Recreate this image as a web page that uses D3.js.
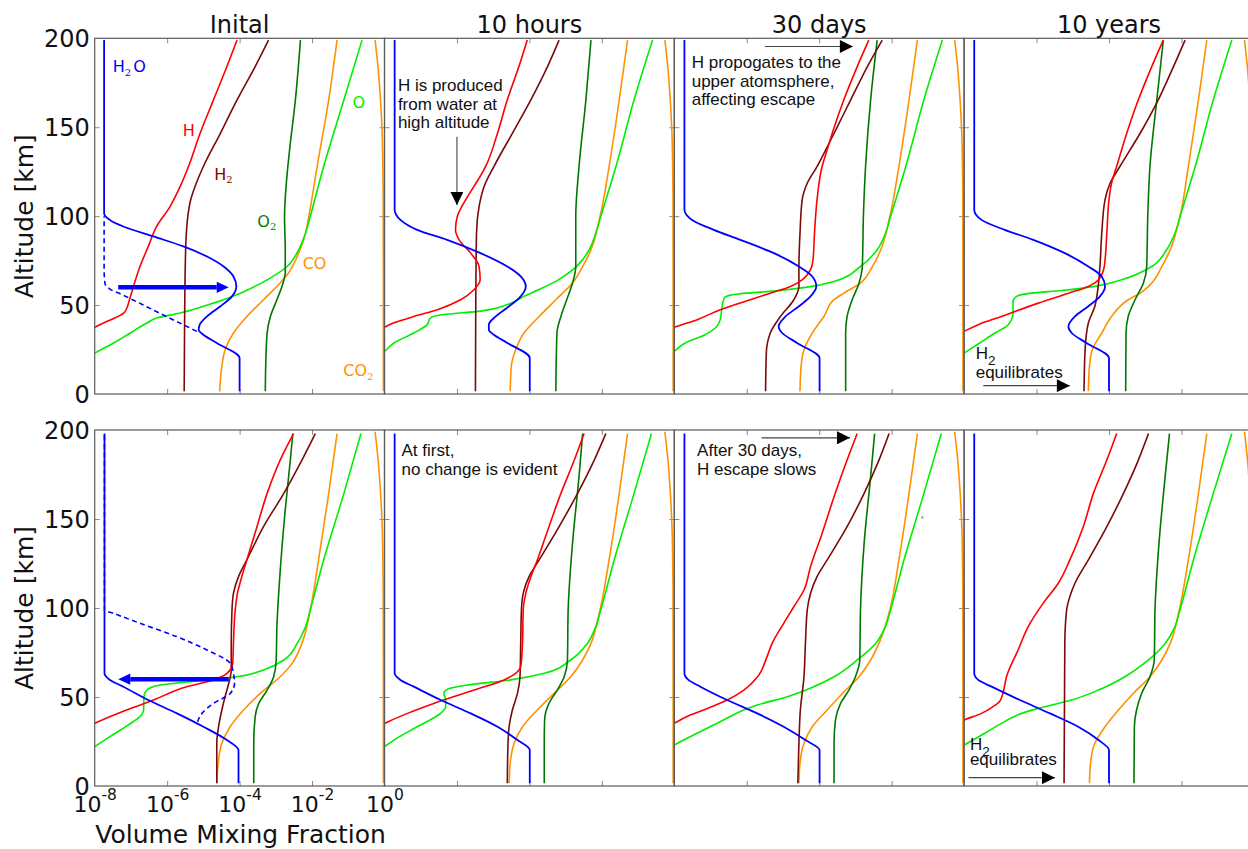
<!DOCTYPE html>
<html>
<head>
<meta charset="utf-8">
<script src="https://cdn.jsdelivr.net/npm/d3@7"></script>
<style>
  body { margin: 0; background: #fff; }
  svg { display: block; }
</style>
</head>
<body>
<svg id="chart" width="1248" height="849"></svg>
<script>
// ---------------------------------------------------------------------------
// Atmospheric composition profiles after a water injection (top row) and a
// water depletion (bottom row). Each profile is a list of
// [altitude km, log10 volume mixing fraction] pairs; each species array
// holds one profile per time step: Inital, 10 hours, 30 days, 10 years.
// ---------------------------------------------------------------------------
const panelTitles = ["Inital", "10 hours", "30 days", "10 years"];
const altTicks = [0, 50, 100, 150, 200];
const altInnerTicks = [50, 100, 150];
const vmrTicks = [1e-8, 1e-6, 1e-4, 1e-2, 1];
const vmrTickExponents = ["-8", "-6", "-4", "-2", "0"];
const vmrInnerTicks = [1e-6, 1e-4, 1e-2];

// ----- water injected (top row) -----
const h2oTop = [
  [[1.5,-4.0],[20.2,-4.0],[28.7,-4.63],[33.3,-5.0],[36.1,-5.13],[39.0,-5.1],[43.6,-4.9],[49.3,-4.53],[54.9,-4.21],[60.5,-4.09],[66.1,-4.17],[71.7,-4.44],[77.3,-4.9],[83.0,-5.55],[88.6,-6.38],[94.2,-7.21],[97.9,-7.58],[101.7,-7.74],[199,-7.74]],
  [[1.5,-3.99],[20.2,-3.99],[28.7,-4.61],[33.3,-4.98],[36.1,-5.12],[39,-5.12],[43.6,-4.93],[49.3,-4.56],[54.9,-4.24],[60.5,-4.1],[66.1,-4.24],[71.7,-4.61],[79.2,-5.35],[86.7,-6.27],[92.3,-7.1],[97.9,-7.56],[103.6,-7.72],[199,-7.72]],
  [[1.5,-3.99],[20.2,-3.99],[28.7,-4.61],[34.3,-5.02],[38,-5.12],[43.6,-4.93],[49.3,-4.56],[54.9,-4.24],[60.5,-4.08],[66.1,-4.19],[71.7,-4.56],[79.2,-5.25],[86.7,-6.18],[92.3,-6.91],[97.9,-7.51],[103.6,-7.72],[199,-7.72]],
  [[1.5,-4.0],[20.2,-4.0],[28.7,-4.62],[34.3,-5.03],[38,-5.12],[43.6,-4.94],[49.3,-4.57],[54.9,-4.25],[60.5,-4.11],[66.1,-4.2],[71.7,-4.57],[79.2,-5.22],[86.7,-6.09],[92.3,-6.88],[97.9,-7.52],[103.6,-7.72],[199,-7.72]]
];
const h2oTopBefore = [[35.2,-5.18],[47,-6.36],[56,-7.26],[59,-7.58],[62.4,-7.72],[70,-7.74],[100,-7.74]];

const hTop = [
  [[30,-8.75],[37.5,-8.0],[40.5,-7.7],[42.7,-7.45],[45.5,-7.2],[48,-7.12],[53,-7.04],[60.5,-6.93],[71.7,-6.75],[83,-6.52],[94.2,-6.29],[105.4,-5.92],[116.7,-5.64],[127.9,-5.41],[146.6,-5.09],[165.4,-4.72],[184.1,-4.35],[199,-4.07]],
  [[30,-8.7],[37.5,-8.0],[40,-7.74],[43.6,-7.19],[47.4,-6.54],[53,-5.9],[58.6,-5.53],[64.2,-5.36],[71.7,-5.39],[79.2,-5.62],[86.7,-5.94],[92.3,-6.04],[99.8,-5.99],[109.2,-5.76],[116.7,-5.53],[127.9,-5.21],[146.6,-4.88],[165.4,-4.61],[184.1,-4.29],[199,-4.06]],
  [[30,-8.65],[37.5,-8.0],[41.8,-7.37],[47.4,-6.73],[53,-5.9],[56.7,-5.35],[60.5,-4.79],[64.2,-4.47],[69.9,-4.24],[75.5,-4.17],[90.4,-4.13],[109.2,-4.06],[127.9,-3.92],[137.3,-3.78],[146.6,-3.64],[165.4,-3.32],[184.1,-2.95],[199,-2.63]],
  [[30,-8.5],[35.2,-8.0],[39,-7.61],[43.6,-6.97],[51.1,-5.95],[56.7,-5.12],[60.5,-4.57],[64.2,-4.29],[71.7,-4.13],[90.4,-4.06],[109.2,-4.0],[118.5,-3.93],[127.9,-3.79],[146.6,-3.51],[165.4,-3.19],[184.1,-2.82],[199,-2.5]]
];

const h2Top = [
  [[1.5,-5.53],[34.3,-5.52],[71.7,-5.5],[90.4,-5.47],[99.8,-5.43],[109.2,-5.35],[116.7,-5.23],[127.9,-5.0],[146.6,-4.53],[165.4,-4.07],[184.1,-3.57],[199,-3.2]],
  [[1.5,-5.49],[53,-5.48],[90.4,-5.46],[105.4,-5.39],[116.7,-5.25],[127.9,-4.98],[146.6,-4.47],[165.4,-3.96],[184.1,-3.5],[199,-3.18]],
  [[1.5,-5.48],[23,-5.46],[34.3,-5.35],[43.6,-5.07],[53,-4.7],[60.5,-4.56],[71.7,-4.56],[90.4,-4.53],[109.2,-4.47],[118.5,-4.33],[127.9,-4.06],[137.3,-3.82],[146.6,-3.59],[165.4,-3.13],[184.1,-2.67],[199,-2.26]],
  [[1.5,-4.69],[24.9,-4.66],[39.9,-4.57],[49.3,-4.39],[58.6,-4.31],[71.7,-4.25],[90.4,-4.2],[109.2,-4.11],[118.5,-3.97],[127.9,-3.7],[146.6,-3.14],[165.4,-2.64],[184.1,-2.22],[199,-1.9]]
];

const o2Top = [
  [[1.5,-3.29],[15.5,-3.28],[34.3,-3.24],[43.6,-3.15],[53,-2.97],[62.4,-2.8],[68,-2.74],[81.1,-2.74],[99.8,-2.76],[118.5,-2.71],[137.3,-2.62],[165.4,-2.46],[199,-2.32]],
  [[1.5,-3.27],[34.3,-3.24],[43.6,-3.13],[53,-2.97],[62.4,-2.81],[71.7,-2.72],[99.8,-2.72],[127.9,-2.63],[165.4,-2.44],[199,-2.3]],
  [[1.5,-3.27],[34.3,-3.27],[43.6,-3.23],[53,-3.09],[62.4,-2.9],[71.7,-2.81],[99.8,-2.78],[127.9,-2.72],[165.4,-2.58],[199,-2.4]],
  [[1.5,-3.54],[34.3,-3.53],[43.6,-3.47],[53,-3.28],[62.4,-3.05],[71.7,-2.96],[99.8,-2.93],[127.9,-2.87],[165.4,-2.68],[199,-2.5]]
];

const oTop = [
  [[18,-8.45],[23,-8.0],[28.7,-7.48],[34.3,-7.02],[39.9,-6.56],[42.7,-6.29],[45.5,-5.64],[51.1,-4.72],[56.7,-3.98],[64.2,-3.24],[71.7,-2.69],[81.1,-2.37],[90.4,-2.18],[99.8,-2.05],[127.9,-1.68],[165.4,-1.12],[199,-0.62]],
  [[18,-8.4],[24,-8.0],[28.7,-7.74],[34.3,-7.19],[39,-6.82],[42.3,-6.75],[43.8,-6.62],[44.8,-6.3],[46.6,-5.35],[48.1,-4.95],[50.6,-4.56],[55.4,-4.1],[58.6,-3.75],[64.2,-3.2],[69.9,-2.8],[75,-2.55],[81.1,-2.35],[90.4,-2.17],[99.8,-2.03],[127.9,-1.61],[165.4,-1.11],[199,-0.6]],
  [[18,-8.4],[24,-8.0],[28.7,-7.7],[33.3,-7.15],[37.1,-6.87],[41.8,-6.73],[49.3,-6.68],[53.9,-6.62],[55.6,-6.45],[56.4,-6.18],[57.7,-5.35],[60.1,-4.33],[63.3,-3.59],[71.7,-2.86],[81.1,-2.4],[90.4,-2.17],[99.8,-2.03],[127.9,-1.61],[165.4,-1.11],[199,-0.6]],
  [[17,-8.45],[23,-8.0],[28.7,-7.57],[34.3,-7.15],[39,-6.78],[45.5,-6.65],[52.1,-6.65],[54.9,-6.55],[56.7,-6.14],[58.2,-5.31],[60.5,-4.39],[64.2,-3.65],[71.7,-2.82],[81.1,-2.41],[90.4,-2.18],[99.8,-2.04],[127.9,-1.62],[165.4,-1.12],[199,-0.61]]
];

const coTop = [
  [[1.5,-4.55],[15.5,-4.49],[24.9,-4.4],[34.3,-4.17],[43.6,-3.8],[53,-3.34],[62.4,-2.88],[68,-2.65],[79.2,-2.37],[90.4,-2.18],[99.8,-2.09],[127.9,-1.86],[165.4,-1.54],[199,-1.31]],
  [[1.5,-4.53],[15.5,-4.5],[24.9,-4.38],[34.3,-4.15],[43.6,-3.73],[53,-3.27],[62.4,-2.81],[71.7,-2.53],[81.1,-2.3],[99.8,-2.05],[127.9,-1.8],[165.4,-1.52],[199,-1.29]],
  [[1.5,-4.53],[15.5,-4.5],[24.9,-4.42],[34.3,-4.19],[43.6,-3.87],[53,-3.59],[56.7,-3.32],[62.4,-2.86],[71.7,-2.53],[81.1,-2.3],[99.8,-2.05],[127.9,-1.8],[165.4,-1.52],[199,-1.29]],
  [[1.5,-4.57],[15.5,-4.54],[24.9,-4.46],[34.3,-4.2],[43.6,-3.93],[53,-3.47],[56.7,-3.14],[62.4,-2.82],[71.7,-2.54],[81.1,-2.31],[99.8,-2.04],[127.9,-1.81],[165.4,-1.53],[199,-1.3]]
];

// ----- water removed (bottom row) -----
const h2oBottom = [
  [[1.5,-4.03],[20.2,-4.03],[25.8,-4.35],[33.3,-5.0],[40.8,-5.73],[48.3,-6.52],[55.8,-7.21],[59.6,-7.58],[63.3,-7.73],[198,-7.73]],
  [[1.5,-3.99],[20.2,-3.99],[25.8,-4.33],[33.3,-4.88],[40.8,-5.62],[48.3,-6.45],[55.8,-7.19],[59.6,-7.56],[63.3,-7.72],[198,-7.72]],
  [[1.5,-3.99],[20.2,-3.99],[25.8,-4.38],[33.3,-4.98],[40.8,-5.71],[48.3,-6.54],[55.8,-7.28],[59.6,-7.61],[63.3,-7.72],[198,-7.72]],
  [[1.5,-4.0],[20.2,-4.0],[25.8,-4.29],[33.3,-4.85],[40.8,-5.63],[48.3,-6.46],[55.8,-7.24],[59.6,-7.61],[63.3,-7.72],[198,-7.72]]
];
const h2oBottomBefore = [[36.1,-5.16],[40.8,-5.04],[46.4,-4.72],[52,-4.26],[57.7,-4.14],[63.3,-4.17],[68.9,-4.26],[76.4,-4.9],[83.9,-5.73],[91.4,-6.75],[97,-7.48],[98.9,-7.73],[198,-7.73]];

const hBottom = [
  [[30,-8.5],[35.2,-8.0],[42.7,-7.12],[48.3,-6.38],[55.8,-5.46],[59.6,-4.72],[63.3,-4.35],[68.9,-4.19],[80.1,-4.17],[98.9,-4.12],[108.2,-4.06],[117.6,-3.94],[127,-3.8],[145.7,-3.52],[164.4,-3.24],[183.1,-2.88],[198,-2.51]],
  [[30,-8.55],[35.2,-8.0],[40.8,-7.37],[46.4,-6.64],[53.9,-5.53],[59.6,-4.7],[63.3,-4.38],[67,-4.24],[80.1,-4.19],[98.9,-4.17],[108.2,-4.1],[117.6,-3.96],[127,-3.78],[145.7,-3.46],[164.4,-3.13],[183.1,-2.76],[198,-2.49]],
  [[30,-8.45],[35.2,-8.0],[39,-7.65],[42.7,-7.19],[48.3,-6.54],[53.9,-6.08],[61.4,-5.7],[72.7,-5.44],[80.1,-5.3],[91.4,-4.98],[100.7,-4.7],[110.1,-4.42],[123.2,-4.24],[141.9,-3.92],[162.5,-3.59],[183.1,-3.23],[198,-2.95]],
  [[33,-8.4],[37.1,-8.0],[40.8,-7.52],[44.6,-7.2],[47.5,-7.02],[52,-6.93],[61.4,-6.83],[76.4,-6.51],[89.5,-6.23],[102.6,-5.82],[113.9,-5.4],[127,-5.08],[145.7,-4.71],[164.4,-4.43],[183.1,-4.06],[198,-3.79]]
];

const h2Bottom = [
  [[1.5,-4.63],[24,-4.63],[33.3,-4.58],[42.7,-4.49],[50.2,-4.4],[57.7,-4.3],[65.2,-4.23],[80.1,-4.23],[98.9,-4.21],[108.2,-4.17],[117.6,-4.03],[127,-3.8],[145.7,-3.34],[164.4,-2.78],[183.1,-2.28],[198,-1.91]],
  [[1.5,-4.61],[24,-4.59],[33.3,-4.56],[42.7,-4.47],[52,-4.33],[61.4,-4.26],[80.1,-4.24],[98.9,-4.22],[108.2,-4.17],[117.6,-4.01],[127,-3.73],[145.7,-3.18],[164.4,-2.67],[183.1,-2.21],[198,-1.89]],
  [[1.5,-4.59],[24,-4.56],[42.7,-4.52],[61.4,-4.42],[80.1,-4.38],[98.9,-4.33],[108.2,-4.24],[117.6,-4.06],[127,-3.78],[145.7,-3.23],[164.4,-2.76],[183.1,-2.35],[198,-2.07]],
  [[1.5,-5.24],[80.1,-5.22],[98.9,-5.17],[106.4,-5.08],[113.9,-4.94],[127,-4.57],[145.7,-4.06],[164.4,-3.6],[183.1,-3.19],[198,-2.91]]
];

const o2Bottom = [
  [[1.5,-3.61],[24,-3.61],[39,-3.57],[46.4,-3.47],[53.9,-3.24],[61.4,-3.06],[70.8,-2.99],[89.5,-2.97],[117.6,-2.89],[155.1,-2.74],[183.1,-2.6],[198,-2.53]],
  [[1.5,-3.59],[24,-3.59],[37.1,-3.58],[46.4,-3.46],[53.9,-3.23],[61.4,-3.04],[70.8,-2.95],[98.9,-2.93],[136.3,-2.81],[173.8,-2.63],[198,-2.53]],
  [[1.5,-3.59],[24,-3.59],[37.1,-3.55],[46.4,-3.41],[53.9,-3.18],[61.4,-3.0],[70.8,-2.88],[98.9,-2.86],[136.3,-2.76],[173.8,-2.58],[198,-2.47]],
  [[1.5,-3.31],[33.3,-3.3],[42.7,-3.24],[52,-3.1],[61.4,-2.87],[70.8,-2.75],[98.9,-2.73],[136.3,-2.62],[173.8,-2.45],[198,-2.33]]
];

const oBottom = [
  [[16,-8.45],[22.1,-8.0],[27.7,-7.58],[34.3,-7.07],[39,-6.75],[42.7,-6.65],[50.2,-6.64],[53.9,-6.56],[56.7,-6.19],[59.2,-5.09],[61.4,-4.07],[65.2,-3.34],[70.8,-2.78],[80.1,-2.41],[89.5,-2.18],[98.9,-2.05],[127,-1.68],[164.4,-1.12],[198,-0.65]],
  [[16,-8.5],[22.1,-8.0],[25.8,-7.74],[33.3,-7.1],[40.8,-6.45],[44.6,-6.31],[48.3,-6.31],[52,-6.36],[54.3,-6.27],[56.7,-5.71],[59.6,-4.52],[63.3,-3.59],[70.8,-2.86],[80.1,-2.4],[89.5,-2.17],[98.9,-2.03],[127,-1.66],[164.4,-1.11],[198,-0.63]],
  [[16,-8.5],[23,-8.0],[31.5,-7.19],[37.1,-6.64],[42.7,-6.08],[45.5,-5.71],[50.2,-4.88],[55.8,-4.15],[61.4,-3.59],[70.8,-2.95],[80.1,-2.44],[89.5,-2.17],[98.9,-2.03],[127,-1.66],[164.4,-1.11],[198,-0.63]],
  [[16,-8.55],[23,-8.0],[29.6,-7.43],[35.2,-6.97],[40.8,-6.41],[43.6,-5.95],[48.3,-5.03],[53.9,-4.29],[61.4,-3.56],[70.8,-2.91],[80.1,-2.45],[89.5,-2.18],[98.9,-2.04],[127,-1.67],[164.4,-1.12],[198,-0.61]]
];

const coBottom = [
  [[1.5,-4.63],[14.6,-4.58],[24,-4.49],[33.3,-4.26],[42.7,-3.89],[52,-3.43],[61.4,-2.88],[68.9,-2.55],[80.1,-2.28],[98.9,-2.05],[127,-1.82],[164.4,-1.54],[198,-1.31]],
  [[1.5,-4.56],[14.6,-4.52],[24,-4.42],[33.3,-4.19],[42.7,-3.78],[52,-3.32],[61.4,-2.86],[70.8,-2.53],[80.1,-2.3],[98.9,-2.05],[127,-1.8],[164.4,-1.52],[198,-1.29]],
  [[1.5,-4.56],[14.6,-4.52],[24,-4.42],[33.3,-4.19],[42.7,-3.78],[52,-3.36],[61.4,-2.9],[70.8,-2.58],[80.1,-2.35],[98.9,-2.05],[127,-1.8],[164.4,-1.52],[198,-1.29]],
  [[1.5,-4.54],[14.6,-4.5],[24,-4.39],[33.3,-4.11],[42.7,-3.74],[52,-3.33],[61.4,-2.87],[70.8,-2.54],[80.1,-2.31],[98.9,-2.06],[127,-1.81],[164.4,-1.53],[198,-1.3]]
];

// CO2 is the bulk gas and barely changes between time steps
const co2Profile = [[1.5,-0.03],[110,-0.035],[128,-0.045],[146.6,-0.065],[165,-0.11],[184,-0.18],[199,-0.26]];

// species labels drawn in the first panel: [text, subscript, rest, log10 x, altitude]
const speciesLabels = [
  ["H", "2", "O", -7.5, 181],
  ["H", "", "", -5.57, 145],
  ["H", "2", "", -4.7, 120.4],
  ["O", "2", "", -3.51, 94.1],
  ["CO", "", "", -2.26, 70.1],
  ["O", "", "", -0.88, 160.7],
  ["CO", "2", "", -1.14, 10.1]
];
const speciesLabelColors = ["#0000ff", "#ff0000", "#800000", "#008000", "#ff9100", "#00ee00", "#ff9100"];

// thick blue arrows showing the water perturbation: [row, altitude, from, to]
const perturbArrows = [[0, 60, -7.35, -4.3], [1, 60, -4.3, -7.35]];

// annotation text blocks: [row, col, log10 x, altitude of first baseline, lines]
const notes = [
  [0, 1, -7.63, 170.2, ["H is produced", "from water at", "high altitude"]],
  [0, 2, -7.52, 183.2, ["H propogates to the", "upper atomsphere,", "affecting escape"]],
  [1, 1, -7.53, 185.2, ["At first,", "no change is evident"]],
  [1, 2, -7.37, 185.2, ["After 30 days,", "H escape slows"]]
];
// "H2 equilibrates" labels: [row, col, log10 x, altitude of H baseline, altitude of second line]
const equilNotes = [[0, 3, -7.68, 19.6, 9.0], [1, 3, -7.84, 20.4, 11.6]];
// thin black annotation arrows: [row, col, x0, alt0, x1, alt1]
const noteArrows = [
  [0, 1, -6.0, 144.7, -6.0, 106.3],
  [0, 2, -5.5, 195.4, -3.07, 195.4],
  [0, 3, -7.47, 4.7, -5.08, 4.7],
  [1, 2, -5.59, 195.6, -3.15, 195.6],
  [1, 3, -7.88, 4.7, -5.49, 4.7]
];

// ---------------------------------------------------------------------------
const svg = d3.select("#chart");
const left = 94.7, panelW = 289.8;
const rowTop = [38.3, 430], rowBottom = [394, 786];
const mainFont = "DejaVu Sans, Verdana, sans-serif";
const noteFont = "Liberation Sans, Arial, Helvetica, sans-serif";

const species = [
  { name: "CO2", color: "#ff9100", width: 1.6, top: [0,1,2,3].map(() => co2Profile), bottom: [0,1,2,3].map(() => co2Profile) },
  { name: "CO",  color: "#ff9100", width: 1.6, top: coTop,  bottom: coBottom },
  { name: "O",   color: "#00ee00", width: 1.6, top: oTop,   bottom: oBottom },
  { name: "O2",  color: "#007800", width: 1.6, top: o2Top,  bottom: o2Bottom },
  { name: "H2",  color: "#7a0a0a", width: 1.6, top: h2Top,  bottom: h2Bottom },
  { name: "H",   color: "#ff0000", width: 1.6, top: hTop,   bottom: hBottom },
  { name: "H2O", color: "#0000ff", width: 1.8, top: h2oTop, bottom: h2oBottom }
];

function scalesFor(row, col) {
  const x = d3.scaleLog().domain([1e-8, 1]).range([left + col * panelW, left + (col + 1) * panelW]);
  const y = d3.scaleLinear().domain([0, 200]).range([rowBottom[row], rowTop[row]]);
  return { x, y };
}
function lineFor(s) {
  return d3.line()
    .x(d => s.x(Math.pow(10, d[1])))
    .y(d => s.y(d[0]))
    .curve(d3.curveMonotoneY);
}

const defs = svg.append("defs");
defs.append("marker").attr("id", "noteHead")
  .attr("viewBox", "0 0 10 10").attr("refX", 10).attr("refY", 5)
  .attr("markerUnits", "userSpaceOnUse").attr("markerWidth", 14).attr("markerHeight", 13)
  .attr("orient", "auto")
  .append("path").attr("d", "M0,0 L10,5 L0,10 Z").attr("fill", "#000");

for (let row = 0; row < 2; row++) {
  for (let col = 0; col < 4; col++) {
    const s = scalesFor(row, col);
    const [x0, x1] = s.x.range();
    const [y0, y1] = [rowTop[row], rowBottom[row]];
    const g = svg.append("g");
    const clipId = `clip-${row}-${col}`;
    defs.append("clipPath").attr("id", clipId)
      .append("rect").attr("x", x0).attr("y", y0).attr("width", x1 - x0).attr("height", y1 - y0);

    // inward ticks on all four sides
    const tickStyle = sel => {
      sel.select(".domain").remove();
      sel.selectAll(".tick line").attr("stroke", "#8a8a8a").attr("stroke-width", 1);
      sel.selectAll(".tick text").remove();
    };
    g.append("g").attr("transform", `translate(0,${y1})`)
      .call(d3.axisBottom(s.x).tickValues(vmrInnerTicks).tickSize(-5)).call(tickStyle);
    g.append("g").attr("transform", `translate(0,${y0})`)
      .call(d3.axisTop(s.x).tickValues(vmrInnerTicks).tickSize(-5)).call(tickStyle);
    g.append("g").attr("transform", `translate(${x0},0)`)
      .call(d3.axisLeft(s.y).tickValues(altInnerTicks).tickSize(-5)).call(tickStyle);
    g.append("g").attr("transform", `translate(${x1},0)`)
      .call(d3.axisRight(s.y).tickValues(altInnerTicks).tickSize(-5)).call(tickStyle);

    // profiles
    const lines = g.append("g").attr("clip-path", `url(#${clipId})`);
    const line = lineFor(s);
    const key = row === 0 ? "top" : "bottom";
    species.forEach(sp => {
      lines.append("path")
        .attr("d", line(sp[key][col]))
        .attr("fill", "none")
        .attr("stroke", sp.color)
        .attr("stroke-width", sp.width)
        .attr("stroke-linejoin", "round");
    });

    if (col === 0) {
      lines.append("path")
        .attr("d", line(row === 0 ? h2oTopBefore : h2oBottomBefore))
        .attr("fill", "none").attr("stroke", "#0000ff")
        .attr("stroke-width", 1.6).attr("stroke-dasharray", "5,3.5");
    }

    // frame
    g.append("rect").attr("x", x0).attr("y", y0).attr("width", x1 - x0).attr("height", y1 - y0)
      .attr("fill", "none").attr("stroke", "#5a5a5a").attr("stroke-width", 1.2);

    if (row === 0) {
      svg.append("text").attr("x", (x0 + x1) / 2).attr("y", 33.3)
        .attr("text-anchor", "middle").attr("font-family", mainFont).attr("font-size", 24)
        .attr("fill", "#111").text(panelTitles[col]);
    }

    if (col === 0) {
      // altitude labels
      const ax = svg.append("g").attr("transform", `translate(${x0},0)`)
        .call(d3.axisLeft(s.y).tickValues(altTicks).tickSize(0).tickPadding(5));
      ax.select(".domain").remove();
      ax.selectAll(".tick text").attr("font-family", mainFont).attr("font-size", 24)
        .attr("fill", "#111").attr("dy", "0.35em");
      svg.append("text")
        .attr("transform", `translate(33,${(y0 + y1) / 2}) rotate(-90)`)
        .attr("text-anchor", "middle").attr("font-family", mainFont).attr("font-size", 25)
        .attr("fill", "#111").text("Altitude [km]");
    }

    if (row === 1 && col === 0) {
      const bx = svg.append("g").attr("transform", `translate(0,${y1})`)
        .call(d3.axisBottom(s.x).tickValues(vmrTicks).tickSize(0).tickFormat(() => ""));
      bx.select(".domain").remove();
      bx.selectAll(".tick text").each(function(d, i) {
        const t = d3.select(this).attr("y", 25.7).attr("dy", null)
          .attr("font-family", mainFont).attr("fill", "#111").attr("text-anchor", "middle");
        t.append("tspan").attr("font-size", 22).text("10");
        t.append("tspan").attr("font-size", 15.5).attr("dy", -12).text(vmrTickExponents[i]);
      });
      svg.append("text").attr("x", (x0 + x1) / 2 + 1).attr("y", 843)
        .attr("text-anchor", "middle").attr("font-family", mainFont).attr("font-size", 25)
        .attr("fill", "#111").text("Volume Mixing Fraction");
    }

    if (row === 0 && col === 0) {
      speciesLabels.forEach((lb, i) => {
        const t = svg.append("text")
          .attr("x", s.x(Math.pow(10, lb[3]))).attr("y", s.y(lb[4]))
          .attr("font-family", mainFont).attr("font-size", 16)
          .attr("fill", speciesLabelColors[i]);
        t.append("tspan").text(lb[0]);
        if (lb[1]) t.append("tspan").attr("font-size", 10).attr("font-family", "DejaVu Serif, serif")
          .attr("dy", 3.5).text(lb[1]);
        if (lb[2]) t.append("tspan").attr("dy", -3.5).attr("dx", 2).text(lb[2]);
      });
    }

    // blue perturbation arrow
    perturbArrows.filter(a => a[0] === row && col === 0).forEach(a => {
      const ya = s.y(a[1]);
      const xa = s.x(Math.pow(10, a[2])), xb = s.x(Math.pow(10, a[3]));
      const dir = Math.sign(xb - xa), headL = 12, headH = 5.6;
      g.append("line").attr("x1", xa).attr("x2", xb - dir * headL).attr("y1", ya).attr("y2", ya)
        .attr("stroke", "#0000ff").attr("stroke-width", 4.6);
      g.append("path")
        .attr("d", `M${xb},${ya} L${xb - dir * headL},${ya - headH} L${xb - dir * headL},${ya + headH} Z`)
        .attr("fill", "#0000ff");
    });

    // annotations
    notes.filter(n => n[0] === row && n[1] === col).forEach(n => {
      const t = svg.append("text").attr("x", s.x(Math.pow(10, n[2]))).attr("y", s.y(n[3]))
        .attr("font-family", noteFont).attr("font-size", 17).attr("fill", "#111");
      n[4].forEach((ln, i) => t.append("tspan").attr("x", s.x(Math.pow(10, n[2])))
        .attr("dy", i === 0 ? 0 : 18.6).text(ln));
    });
    equilNotes.filter(n => n[0] === row && n[1] === col).forEach(n => {
      const xx = s.x(Math.pow(10, n[2]));
      const t = svg.append("text").attr("x", xx).attr("y", s.y(n[3]))
        .attr("font-family", noteFont).attr("font-size", 17).attr("fill", "#111");
      t.append("tspan").text("H");
      t.append("tspan").attr("font-size", 13.5).attr("dy", 6).text("2");
      svg.append("text").attr("x", xx).attr("y", s.y(n[4]))
        .attr("font-family", noteFont).attr("font-size", 17).attr("fill", "#111").text("equilibrates");
    });
    noteArrows.filter(a => a[0] === row && a[1] === col).forEach(a => {
      g.append("line")
        .attr("x1", s.x(Math.pow(10, a[2]))).attr("y1", s.y(a[3]))
        .attr("x2", s.x(Math.pow(10, a[4]))).attr("y2", s.y(a[5]))
        .attr("stroke", "#444").attr("stroke-width", 1.1)
        .attr("marker-end", "url(#noteHead)");
    });

    if (row === 1 && col === 2) {
      // small stray glyph next to the O profile
      svg.append("text").attr("x", s.x(Math.pow(10, -1.19))).attr("y", s.y(150))
        .attr("font-family", noteFont).attr("font-size", 5).attr("fill", "#555").text("s");
    }
  }
}
</script>
</body>
</html>
